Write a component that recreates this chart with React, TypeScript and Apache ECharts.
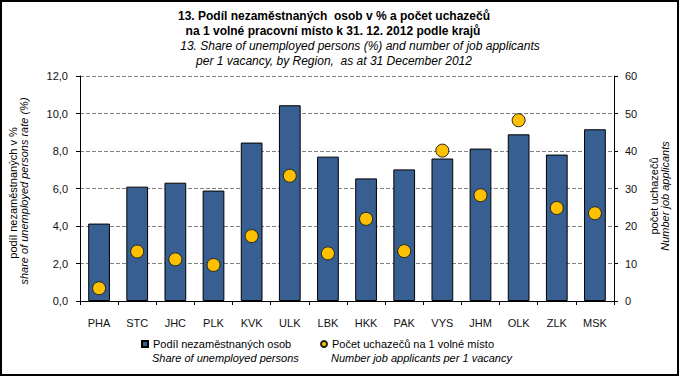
import React, { useEffect, useRef } from "react";
import * as echarts from "echarts";

const categories = ["PHA", "STC", "JHC", "PLK", "KVK", "ULK", "LBK", "HKK", "PAK", "VYS", "JHM", "OLK", "ZLK", "MSK"];
const shareUnemployed = [4.13, 6.1, 6.31, 5.89, 8.45, 10.44, 7.7, 6.54, 7.02, 7.6, 8.13, 8.89, 7.81, 9.16];
const applicantsPerVacancy = [3.4, 13.2, 11.1, 9.6, 17.3, 33.4, 12.7, 21.9, 13.3, 40.1, 28.2, 48.2, 24.8, 23.4];
const leftTicks = { min: 0, max: 12, interval: 2 };
const rightTicks = { min: 0, max: 60, interval: 10 };

const FONT = "'Liberation Sans', Arial, sans-serif";
const seriesBarName = "Podíl nezaměstnaných osob";
const seriesDotName = "Počet uchazečů na 1 volné místo";

export default function App() {
  const ref = useRef<HTMLDivElement>(null);
  useEffect(() => {
    document.body.style.margin = "0";
    const chart = echarts.init(ref.current!, undefined, { renderer: "svg" });
    const txt = (text: string, x: number, y: number, opts: any = {}) => ({
      type: "text",
      x,
      y,
      rotation: opts.rotation || 0,
      style: {
        text,
        fill: "#000",
        font: `${opts.italic ? "italic " : ""}${opts.bold ? "bold " : ""}${opts.size || 11}px ${FONT}`,
        textAlign: opts.align || "center",
        textVerticalAlign: "middle",
      },
      silent: true,
    });
    chart.setOption({
      animation: false,
      backgroundColor: "#fff",
      textStyle: { fontFamily: FONT },
      grid: { left: 80, right: 66, top: 76, bottom: 76 },
      xAxis: {
        type: "category",
        data: categories,
        axisLine: { lineStyle: { color: "#000", width: 1 } },
        axisTick: { show: true, length: 4, lineStyle: { color: "#000" } },
        axisLabel: { color: "#111", fontSize: 11, margin: 16, fontFamily: FONT },
      },
      yAxis: [
        {
          type: "value",
          ...leftTicks,
          axisLine: { show: true, lineStyle: { color: "#000" } },
          axisTick: { show: true, length: 4, lineStyle: { color: "#000" } },
          axisLabel: {
            color: "#111",
            fontSize: 11,
            margin: 12,
            fontFamily: FONT,
            formatter: (v: number) => v.toFixed(1).replace(".", ","),
          },
          splitLine: { show: true, lineStyle: { color: "#808080", type: [4, 2], width: 1 } },
        },
        {
          type: "value",
          position: "right",
          ...rightTicks,
          axisLine: { show: true, lineStyle: { color: "#000" } },
          axisTick: { show: true, length: 4, lineStyle: { color: "#000" } },
          axisLabel: { color: "#111", fontSize: 11, margin: 11, fontFamily: FONT },
          splitLine: { show: false },
        },
      ],
      legend: [
        {
          data: [seriesBarName],
          left: 141,
          top: 337,
          padding: 0,
          itemWidth: 6,
          itemHeight: 6,
          icon: "rect",
          textStyle: { fontSize: 11, color: "#000", fontFamily: FONT, lineHeight: 14 },
          selectedMode: false,
        },
        {
          data: [seriesDotName],
          left: 320,
          top: 337,
          padding: 0,
          itemWidth: 6,
          itemHeight: 6,
          icon: "circle",
          textStyle: { fontSize: 11, color: "#000", fontFamily: FONT, lineHeight: 14 },
          selectedMode: false,
        },
      ],
      series: [
        {
          name: seriesBarName,
          type: "bar",
          data: shareUnemployed,
          barWidth: "57%",
          itemStyle: { color: "#375F92", borderColor: "#000", borderWidth: 1 },
        },
        {
          name: seriesDotName,
          type: "scatter",
          yAxisIndex: 1,
          data: applicantsPerVacancy,
          symbolSize: 13,
          itemStyle: { color: "#FFC000", borderColor: "#222", borderWidth: 1, opacity: 1 },
        },
      ],
      graphic: [
        {
          type: "rect",
          shape: { x: 1, y: 1, width: 677, height: 374 },
          style: { fill: "none", stroke: "#000", lineWidth: 2 },
          silent: true,
        },
        txt("13. Podíl nezaměstnaných  osob v % a počet uchazečů", 334, 16, { bold: true, size: 12 }),
        txt("na 1 volné pracovní místo k 31. 12. 2012 podle krajů", 333, 31, { bold: true, size: 12 }),
        txt("13. Share of unemployed persons (%) and number of job applicants", 360, 46, { italic: true, size: 12 }),
        txt("per 1 vacancy, by Region,  as at 31 December 2012", 334, 61, { italic: true, size: 12 }),
        txt("podíl nezaměstnaných v %", 13, 193, { rotation: Math.PI / 2, size: 11 }),
        txt("share of unemployed persons rate (%)", 24, 191, { rotation: Math.PI / 2, italic: true, size: 11 }),
        txt("počet uchazečů", 654, 196, { rotation: Math.PI / 2, size: 11 }),
        txt("Number job applicants", 665, 196, { rotation: Math.PI / 2, italic: true, size: 11 }),
        txt("Share of unemployed persons", 152, 358, { italic: true, size: 11, align: "left" }),
        txt("Number job applicants per 1 vacancy", 331, 358, { italic: true, size: 11, align: "left" }),
      ],
    });
    return () => chart.dispose();
  }, []);
  return <div ref={ref} style={{ position: "fixed", left: 0, top: 0, width: 680, height: 377 }} />;
}
